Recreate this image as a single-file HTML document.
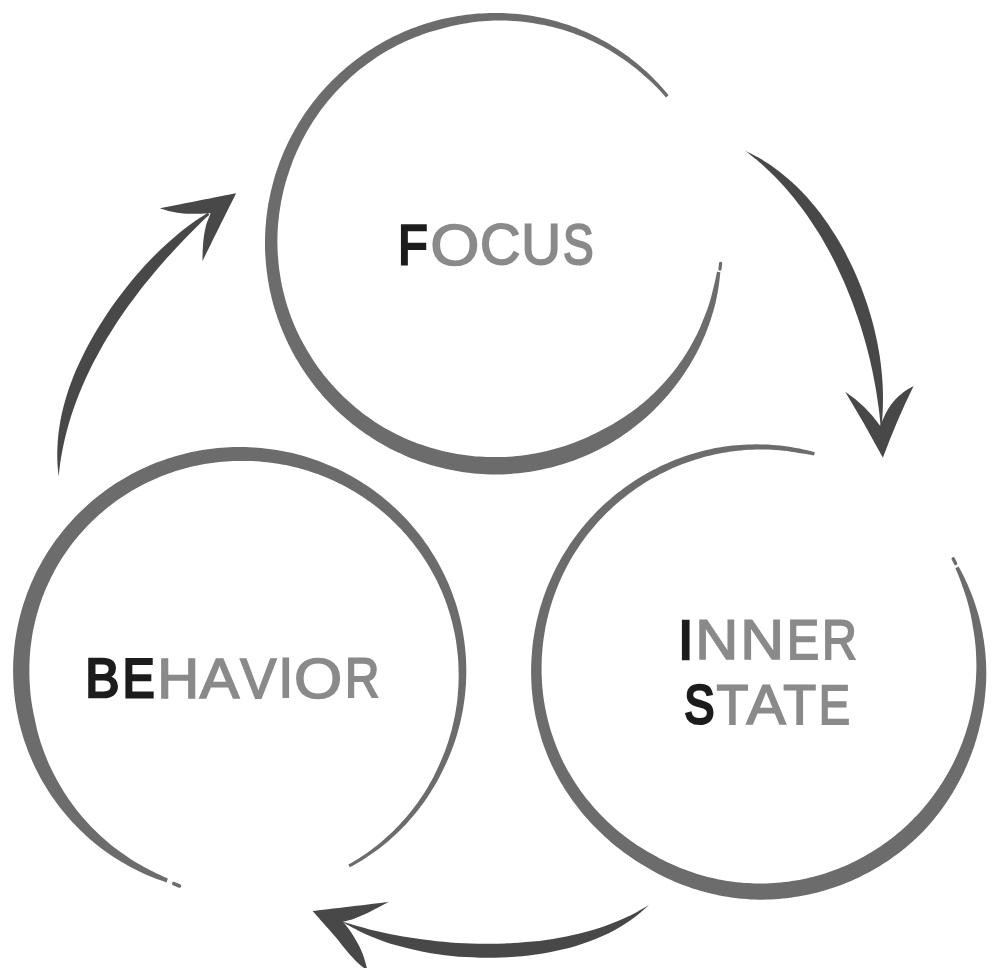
<!DOCTYPE html>
<html><head><meta charset="utf-8"><title>Focus - Inner State - Behavior</title>
<style>
html,body{margin:0;padding:0;background:#fff;}
body{width:1000px;height:968px;overflow:hidden;font-family:"Liberation Sans",sans-serif;}
svg{display:block;text-rendering:geometricPrecision;}
</style></head><body>
<svg width="1000" height="968" viewBox="0 0 1000 968">
<rect width="1000" height="968" fill="#ffffff"/>
<path d="M668.6 95.2 L666.1 92.2 L663.5 89.2 L660.9 86.2 L658.2 83.3 L655.4 80.4 L652.6 77.6 L649.8 74.8 L646.9 72.1 L643.9 69.4 L640.9 66.8 L637.9 64.2 L634.8 61.7 L631.6 59.2 L628.5 56.8 L625.2 54.5 L622.0 52.2 L618.7 50.0 L615.3 47.8 L611.9 45.7 L608.5 43.6 L605.0 41.6 L601.5 39.7 L598.0 37.8 L594.5 36.0 L590.9 34.2 L587.2 32.5 L583.6 30.9 L579.9 29.4 L576.2 27.8 L572.4 26.4 L568.7 25.1 L564.9 23.9 L561.0 22.7 L557.2 21.6 L553.3 20.5 L549.4 19.5 L545.5 18.6 L541.6 17.8 L537.7 17.0 L533.8 16.3 L529.8 15.6 L525.8 15.1 L521.9 14.6 L517.9 14.1 L513.9 13.8 L509.9 13.5 L505.9 13.3 L501.9 13.1 L497.9 13.0 L493.9 13.0 L489.9 13.1 L485.9 13.2 L481.9 13.4 L477.9 13.6 L473.9 14.0 L469.9 14.4 L466.0 14.8 L462.0 15.4 L458.0 16.0 L454.1 16.7 L450.2 17.4 L446.2 18.2 L442.3 19.1 L438.4 20.1 L434.6 21.1 L430.7 22.2 L426.9 23.3 L423.1 24.5 L419.3 25.8 L415.5 27.2 L411.8 28.6 L408.0 30.1 L404.3 31.6 L400.7 33.2 L397.0 34.9 L393.4 36.6 L389.9 38.4 L386.3 40.3 L382.8 42.2 L379.3 44.2 L375.9 46.3 L372.5 48.4 L369.1 50.5 L365.8 52.7 L362.5 55.0 L359.2 57.4 L356.0 59.7 L352.8 62.2 L349.7 64.7 L346.6 67.2 L343.6 69.9 L340.6 72.5 L337.7 75.2 L334.8 78.0 L331.9 80.8 L329.1 83.7 L326.4 86.6 L323.7 89.5 L321.0 92.6 L318.4 95.6 L315.9 98.7 L313.4 101.8 L311.0 105.0 L308.6 108.2 L306.3 111.5 L304.0 114.8 L301.8 118.2 L299.7 121.5 L297.6 125.0 L295.6 128.4 L293.6 131.9 L291.7 135.4 L289.9 139.0 L288.1 142.6 L286.4 146.2 L284.7 149.8 L283.1 153.5 L281.6 157.2 L280.1 160.9 L278.7 164.7 L277.4 168.5 L276.1 172.3 L274.9 176.1 L273.8 179.9 L272.8 183.8 L271.8 187.7 L270.8 191.6 L270.0 195.5 L269.2 199.4 L268.4 203.3 L267.8 207.3 L267.2 211.2 L266.7 215.2 L266.2 219.2 L265.9 223.2 L265.5 227.2 L265.3 231.2 L265.1 235.2 L265.0 239.2 L265.0 243.2 L265.0 247.2 L265.1 251.2 L265.3 255.2 L265.6 259.2 L265.9 263.2 L266.3 267.1 L266.7 271.1 L267.3 275.1 L267.8 279.1 L268.5 283.0 L269.2 286.9 L270.0 290.9 L270.9 294.8 L271.8 298.7 L272.8 302.5 L273.9 306.4 L275.0 310.2 L276.3 314.1 L277.5 317.9 L278.9 321.6 L280.3 325.4 L281.7 329.1 L283.3 332.8 L284.9 336.5 L286.5 340.1 L288.2 343.7 L290.0 347.3 L291.9 350.9 L293.8 354.4 L295.7 357.9 L297.8 361.3 L299.8 364.8 L302.0 368.2 L304.2 371.5 L306.4 374.8 L308.7 378.1 L311.1 381.3 L313.5 384.5 L316.0 387.7 L318.5 390.8 L321.1 393.8 L323.7 396.9 L326.4 399.8 L329.2 402.8 L331.9 405.6 L334.8 408.5 L337.7 411.2 L340.6 414.0 L343.6 416.6 L346.6 419.3 L349.7 421.8 L352.8 424.4 L356.0 426.8 L359.2 429.2 L362.5 431.6 L365.8 433.9 L369.1 436.1 L372.4 438.3 L375.9 440.4 L379.3 442.5 L382.8 444.5 L386.3 446.5 L389.8 448.4 L393.4 450.2 L397.0 451.9 L400.7 453.6 L404.3 455.3 L408.0 456.9 L411.7 458.4 L415.5 459.8 L419.3 461.2 L423.1 462.5 L426.9 463.7 L430.7 464.9 L434.6 466.0 L438.5 467.1 L442.4 468.1 L446.3 469.0 L450.3 469.8 L454.2 470.6 L458.2 471.3 L462.1 471.9 L466.1 472.5 L470.1 473.0 L474.1 473.4 L478.1 473.8 L482.2 474.1 L486.2 474.3 L490.2 474.4 L494.2 474.5 L498.3 474.5 L502.3 474.4 L506.3 474.2 L510.3 474.0 L514.4 473.6 L518.4 473.3 L522.4 472.8 L526.4 472.3 L530.4 471.7 L534.3 471.0 L538.3 470.3 L542.2 469.5 L546.2 468.6 L550.1 467.7 L554.0 466.7 L557.9 465.6 L561.7 464.5 L565.6 463.3 L569.4 462.0 L573.2 460.7 L577.0 459.3 L580.7 457.8 L584.4 456.3 L588.1 454.7 L591.8 453.0 L595.4 451.3 L599.1 449.5 L602.6 447.6 L606.2 445.7 L609.7 443.8 L613.1 441.7 L616.5 439.6 L619.9 437.4 L623.3 435.1 L626.6 432.8 L629.8 430.5 L633.0 428.1 L636.2 425.6 L639.3 423.1 L642.4 420.5 L645.4 417.9 L648.4 415.2 L651.4 412.4 L654.3 409.7 L657.1 406.8 L659.9 403.9 L662.6 401.0 L665.3 398.0 L668.0 395.0 L670.5 391.9 L673.1 388.8 L675.5 385.7 L677.9 382.5 L680.3 379.2 L682.6 376.0 L684.8 372.7 L687.0 369.3 L689.2 365.9 L691.2 362.5 L693.2 359.0 L695.2 355.5 L697.1 352.0 L698.9 348.4 L700.6 344.9 L702.3 341.2 L703.9 337.6 L705.5 333.9 L706.9 330.2 L708.3 326.5 L709.7 322.7 L710.9 318.9 L712.1 315.1 L713.3 311.3 L714.3 307.5 L715.4 303.6 L716.2 299.7 L717.0 295.8 L717.7 291.9 L718.4 288.0 L719.0 284.1 L719.5 280.1 L719.9 276.2 L720.3 272.3 L716.9 271.8 L716.2 275.7 L715.4 279.5 L714.5 283.3 L713.6 287.0 L712.7 290.8 L711.8 294.6 L710.8 298.3 L709.7 302.1 L708.5 305.7 L707.2 309.4 L705.9 313.0 L704.5 316.6 L703.0 320.2 L701.6 323.8 L700.1 327.4 L698.5 330.9 L696.9 334.4 L695.1 337.8 L693.3 341.3 L691.5 344.6 L689.6 348.0 L687.6 351.3 L685.6 354.6 L683.5 357.8 L681.4 361.0 L679.1 364.1 L676.9 367.2 L674.5 370.3 L672.2 373.3 L669.7 376.2 L667.3 379.1 L664.7 382.0 L662.2 384.8 L659.5 387.6 L656.9 390.3 L654.2 393.0 L651.4 395.6 L648.6 398.2 L645.7 400.7 L642.8 403.2 L639.9 405.6 L636.9 407.9 L633.9 410.2 L630.8 412.5 L627.7 414.6 L624.6 416.8 L621.4 418.8 L618.2 420.8 L615.0 422.8 L611.8 424.7 L608.5 426.5 L605.2 428.3 L601.8 430.0 L598.5 431.7 L595.1 433.4 L591.8 435.1 L588.4 436.7 L585.0 438.2 L581.5 439.7 L578.1 441.1 L574.6 442.5 L571.1 443.8 L567.6 445.0 L564.0 446.2 L560.5 447.3 L556.9 448.3 L553.3 449.3 L549.7 450.3 L546.0 451.2 L542.4 452.0 L538.8 452.8 L535.1 453.5 L531.4 454.1 L527.7 454.7 L524.0 455.3 L520.3 455.7 L516.6 456.1 L512.9 456.4 L509.2 456.7 L505.5 456.9 L501.8 457.0 L498.0 457.1 L494.3 457.1 L490.6 457.1 L486.8 457.0 L483.1 456.8 L479.4 456.6 L475.7 456.4 L472.0 456.0 L468.3 455.6 L464.6 455.1 L460.9 454.6 L457.2 454.0 L453.5 453.3 L449.8 452.6 L446.2 451.8 L442.6 450.9 L438.9 450.0 L435.3 449.1 L431.7 448.1 L428.2 447.0 L424.6 445.8 L421.1 444.6 L417.5 443.4 L414.0 442.1 L410.6 440.7 L407.1 439.2 L403.7 437.7 L400.3 436.1 L396.9 434.5 L393.6 432.8 L390.3 431.1 L387.0 429.3 L383.7 427.4 L380.5 425.5 L377.3 423.5 L374.2 421.4 L371.1 419.3 L368.0 417.1 L365.0 414.9 L362.0 412.7 L359.1 410.3 L356.1 408.0 L353.3 405.6 L350.4 403.1 L347.7 400.6 L344.9 398.0 L342.2 395.4 L339.6 392.7 L336.9 390.0 L334.4 387.3 L331.9 384.5 L329.4 381.7 L327.0 378.8 L324.6 375.9 L322.3 372.9 L320.0 369.9 L317.8 366.9 L315.6 363.8 L313.5 360.7 L311.5 357.5 L309.5 354.3 L307.5 351.1 L305.6 347.8 L303.8 344.6 L302.0 341.2 L300.2 337.9 L298.6 334.5 L296.9 331.1 L295.4 327.7 L293.9 324.2 L292.5 320.7 L291.1 317.2 L289.8 313.6 L288.6 310.1 L287.4 306.5 L286.3 302.9 L285.3 299.2 L284.3 295.6 L283.4 291.9 L282.5 288.2 L281.7 284.5 L281.0 280.8 L280.4 277.1 L279.8 273.3 L279.2 269.6 L278.8 265.8 L278.4 262.1 L278.1 258.3 L277.8 254.5 L277.6 250.7 L277.5 246.9 L277.4 243.2 L277.4 239.4 L277.5 235.6 L277.6 231.8 L277.8 228.0 L278.1 224.2 L278.5 220.5 L278.9 216.7 L279.3 212.9 L279.9 209.2 L280.5 205.4 L281.1 201.7 L281.9 198.0 L282.7 194.3 L283.5 190.6 L284.4 186.9 L285.4 183.2 L286.5 179.6 L287.6 176.0 L288.8 172.4 L290.0 168.8 L291.3 165.2 L292.6 161.6 L294.0 158.1 L295.5 154.6 L297.0 151.1 L298.6 147.7 L300.2 144.2 L301.9 140.8 L303.7 137.4 L305.5 134.1 L307.3 130.8 L309.3 127.5 L311.3 124.3 L313.3 121.0 L315.4 117.9 L317.6 114.7 L319.8 111.6 L322.0 108.5 L324.4 105.5 L326.7 102.5 L329.2 99.6 L331.6 96.7 L334.2 93.8 L336.7 91.0 L339.4 88.2 L342.1 85.5 L344.8 82.8 L347.6 80.2 L350.4 77.6 L353.2 75.1 L356.1 72.6 L359.1 70.1 L362.1 67.8 L365.1 65.4 L368.2 63.2 L371.3 60.9 L374.5 58.8 L377.7 56.6 L380.9 54.6 L384.2 52.6 L387.5 50.6 L390.8 48.7 L394.2 46.9 L397.6 45.1 L401.1 43.4 L404.5 41.8 L408.0 40.2 L411.6 38.7 L415.1 37.3 L418.7 35.9 L422.3 34.6 L425.9 33.3 L429.6 32.1 L433.3 30.9 L437.0 29.9 L440.7 28.9 L444.4 27.9 L448.1 27.0 L451.9 26.1 L455.6 25.3 L459.4 24.5 L463.2 23.8 L467.0 23.2 L470.8 22.6 L474.7 22.1 L478.5 21.6 L482.4 21.3 L486.2 21.0 L490.1 20.7 L493.9 20.5 L497.8 20.5 L501.7 20.5 L505.6 20.6 L509.4 20.7 L513.3 20.9 L517.2 21.2 L521.0 21.6 L524.9 22.0 L528.8 22.5 L532.6 23.0 L536.4 23.7 L540.3 24.4 L544.1 25.1 L547.9 25.9 L551.7 26.8 L555.4 27.8 L559.2 28.8 L563.0 29.8 L566.7 31.0 L570.4 32.2 L574.1 33.5 L577.7 34.9 L581.3 36.3 L584.9 37.8 L588.5 39.4 L592.0 41.0 L595.5 42.7 L599.0 44.5 L602.5 46.3 L605.9 48.2 L609.3 50.1 L612.6 52.2 L615.9 54.2 L619.2 56.4 L622.4 58.5 L625.6 60.8 L628.8 63.1 L631.9 65.4 L635.0 67.8 L638.0 70.3 L641.0 72.8 L643.9 75.4 L646.9 77.9 L649.7 80.6 L652.6 83.3 L655.4 86.0 L658.1 88.8 L660.8 91.6 L663.4 94.5 L666.0 97.4Z" fill="#6c6c6c"/>
<path d="M814.9 452.3 L811.1 451.3 L807.2 450.3 L803.4 449.5 L799.5 448.6 L795.7 447.9 L791.8 447.2 L787.9 446.6 L784.0 446.0 L780.1 445.5 L776.1 445.2 L772.2 444.9 L768.2 444.6 L764.3 444.5 L760.3 444.4 L756.4 444.3 L752.4 444.4 L748.5 444.5 L744.5 444.7 L740.6 444.9 L736.6 445.2 L732.7 445.6 L728.8 446.0 L724.8 446.6 L720.9 447.2 L717.0 447.8 L713.1 448.6 L709.3 449.4 L705.4 450.3 L701.6 451.3 L697.8 452.3 L693.9 453.4 L690.2 454.5 L686.4 455.8 L682.7 457.1 L678.9 458.4 L675.2 459.8 L671.6 461.3 L667.9 462.9 L664.3 464.5 L660.7 466.1 L657.2 467.9 L653.6 469.7 L650.1 471.5 L646.7 473.4 L643.2 475.4 L639.8 477.5 L636.5 479.6 L633.2 481.7 L629.9 483.9 L626.6 486.2 L623.4 488.5 L620.3 490.9 L617.1 493.3 L614.1 495.8 L611.0 498.4 L608.0 501.0 L605.1 503.6 L602.2 506.3 L599.3 509.0 L596.5 511.8 L593.8 514.7 L591.1 517.6 L588.4 520.5 L585.8 523.5 L583.3 526.5 L580.8 529.6 L578.3 532.7 L575.9 535.9 L573.6 539.1 L571.3 542.3 L569.1 545.6 L567.0 548.9 L564.9 552.3 L562.8 555.6 L560.8 559.1 L558.9 562.5 L557.0 566.0 L555.2 569.5 L553.5 573.1 L551.8 576.7 L550.2 580.3 L548.6 583.9 L547.1 587.6 L545.7 591.3 L544.3 595.0 L543.0 598.8 L541.8 602.5 L540.6 606.3 L539.5 610.1 L538.5 613.9 L537.5 617.8 L536.6 621.6 L535.8 625.5 L535.0 629.4 L534.3 633.3 L533.7 637.2 L533.1 641.1 L532.6 645.0 L532.2 649.0 L531.9 652.9 L531.6 656.9 L531.4 660.8 L531.2 664.8 L531.1 668.7 L531.1 672.7 L531.2 676.6 L531.3 680.6 L531.5 684.6 L531.7 688.5 L532.1 692.4 L532.5 696.4 L532.9 700.3 L533.5 704.2 L534.1 708.2 L534.8 712.1 L535.5 715.9 L536.4 719.8 L537.3 723.7 L538.2 727.5 L539.3 731.3 L540.4 735.1 L541.5 738.9 L542.7 742.7 L544.0 746.4 L545.4 750.1 L546.8 753.8 L548.3 757.5 L549.9 761.1 L551.5 764.7 L553.2 768.3 L555.0 771.8 L556.8 775.3 L558.7 778.8 L560.6 782.2 L562.7 785.6 L564.7 788.9 L566.9 792.3 L569.1 795.5 L571.3 798.8 L573.6 802.0 L576.0 805.1 L578.4 808.3 L580.8 811.3 L583.3 814.4 L585.9 817.3 L588.5 820.3 L591.2 823.2 L593.9 826.0 L596.7 828.8 L599.5 831.6 L602.3 834.3 L605.2 837.0 L608.1 839.6 L611.0 842.2 L614.0 844.7 L617.1 847.2 L620.2 849.6 L623.3 852.0 L626.5 854.3 L629.7 856.6 L632.9 858.8 L636.2 860.9 L639.5 863.0 L642.9 865.1 L646.3 867.0 L649.6 869.1 L653.1 871.0 L656.5 872.9 L660.0 874.7 L663.5 876.5 L667.0 878.2 L670.6 879.8 L674.2 881.4 L677.9 883.0 L681.5 884.4 L685.2 885.8 L688.9 887.1 L692.6 888.4 L696.4 889.6 L700.2 890.8 L704.0 891.8 L707.8 892.8 L711.7 893.8 L715.5 894.6 L719.4 895.4 L723.3 896.2 L727.2 896.8 L731.1 897.4 L735.0 898.0 L739.0 898.4 L742.9 898.8 L746.9 899.1 L750.8 899.4 L754.8 899.6 L758.8 899.7 L762.7 899.7 L766.7 899.6 L770.7 899.5 L774.6 899.3 L778.6 899.0 L782.6 898.6 L786.5 898.2 L790.5 897.7 L794.4 897.1 L798.3 896.5 L802.2 895.8 L806.1 895.1 L810.0 894.2 L813.9 893.3 L817.8 892.4 L821.6 891.3 L825.4 890.2 L829.2 889.1 L833.0 887.8 L836.8 886.5 L840.5 885.2 L844.2 883.7 L847.9 882.2 L851.6 880.7 L855.2 879.1 L858.9 877.4 L862.4 875.6 L866.0 873.8 L869.5 871.9 L873.0 870.0 L876.4 868.0 L879.9 865.9 L883.2 863.8 L886.6 861.7 L889.9 859.4 L893.1 857.1 L896.4 854.8 L899.6 852.4 L902.7 849.9 L905.8 847.4 L908.9 844.8 L911.9 842.2 L914.8 839.5 L917.8 836.8 L920.6 834.0 L923.4 831.2 L926.1 828.2 L928.8 825.3 L931.4 822.2 L933.9 819.2 L936.4 816.1 L938.9 812.9 L941.3 809.7 L943.6 806.5 L945.9 803.2 L948.1 799.9 L950.3 796.6 L952.4 793.2 L954.4 789.8 L956.4 786.3 L958.3 782.8 L960.2 779.3 L962.0 775.8 L963.7 772.2 L965.4 768.6 L967.0 764.9 L968.5 761.3 L970.0 757.6 L971.4 753.9 L972.8 750.1 L974.1 746.4 L975.3 742.6 L976.5 738.8 L977.5 735.0 L978.6 731.2 L979.5 727.3 L980.5 723.5 L981.3 719.6 L982.1 715.7 L982.8 711.8 L983.5 707.9 L984.1 704.0 L984.6 700.0 L985.0 696.1 L985.4 692.2 L985.7 688.2 L986.0 684.3 L986.2 680.3 L986.3 676.3 L986.3 672.4 L986.2 668.4 L986.1 664.5 L985.9 660.5 L985.6 656.5 L985.3 652.6 L984.9 648.7 L984.4 644.7 L983.9 640.8 L983.2 636.9 L982.6 633.0 L981.8 629.1 L981.0 625.3 L980.1 621.4 L979.2 617.6 L978.1 613.8 L977.0 610.0 L975.8 606.2 L974.6 602.4 L973.3 598.7 L971.9 595.0 L970.5 591.4 L968.9 587.7 L967.4 584.1 L965.7 580.5 L964.1 577.0 L962.3 573.4 L960.5 569.9 L958.6 566.5 L955.4 568.2 L956.9 571.7 L958.4 575.3 L959.8 578.9 L961.1 582.6 L962.4 586.2 L963.7 589.8 L964.9 593.4 L966.1 597.1 L967.2 600.8 L968.2 604.5 L969.2 608.2 L970.1 611.9 L970.9 615.7 L971.6 619.4 L972.3 623.2 L972.9 626.9 L973.6 630.7 L974.1 634.5 L974.7 638.2 L975.1 642.0 L975.5 645.8 L975.8 649.6 L976.0 653.4 L976.2 657.2 L976.3 661.0 L976.4 664.8 L976.4 668.5 L976.3 672.3 L976.1 676.1 L975.9 679.9 L975.6 683.7 L975.3 687.4 L974.8 691.2 L974.4 694.9 L973.8 698.7 L973.2 702.4 L972.5 706.1 L971.8 709.8 L971.0 713.5 L970.1 717.2 L969.2 720.8 L968.2 724.5 L967.1 728.1 L966.0 731.7 L964.9 735.2 L963.6 738.8 L962.4 742.3 L961.0 745.8 L959.6 749.3 L958.1 752.7 L956.6 756.2 L955.0 759.6 L953.4 762.9 L951.7 766.3 L949.9 769.6 L948.1 772.8 L946.2 776.1 L944.3 779.3 L942.3 782.5 L940.3 785.6 L938.2 788.7 L936.1 791.8 L933.9 794.8 L931.7 797.8 L929.4 800.8 L927.1 803.7 L924.7 806.5 L922.3 809.4 L919.8 812.2 L917.3 814.9 L914.7 817.6 L912.1 820.2 L909.5 822.8 L906.8 825.4 L904.0 827.9 L901.3 830.4 L898.4 832.8 L895.6 835.2 L892.7 837.5 L889.7 839.8 L886.7 842.0 L883.7 844.1 L880.7 846.2 L877.6 848.3 L874.5 850.3 L871.3 852.2 L868.1 854.1 L864.9 856.0 L861.7 857.8 L858.4 859.5 L855.1 861.2 L851.8 862.8 L848.4 864.4 L845.0 865.9 L841.6 867.3 L838.2 868.7 L834.7 870.0 L831.2 871.3 L827.8 872.5 L824.2 873.7 L820.7 874.7 L817.1 875.8 L813.6 876.7 L810.0 877.6 L806.4 878.4 L802.8 879.2 L799.1 879.9 L795.5 880.6 L791.9 881.1 L788.2 881.7 L784.5 882.1 L780.9 882.5 L777.2 882.8 L773.5 883.1 L769.8 883.3 L766.1 883.4 L762.4 883.5 L758.7 883.5 L755.1 883.4 L751.4 883.3 L747.7 883.1 L744.0 882.9 L740.3 882.6 L736.7 882.2 L733.0 881.8 L729.4 881.3 L725.7 880.7 L722.1 880.1 L718.5 879.4 L714.9 878.6 L711.3 877.8 L707.7 876.9 L704.1 876.0 L700.6 875.0 L697.1 873.9 L693.6 872.8 L690.1 871.6 L686.6 870.3 L683.2 869.0 L679.8 867.7 L676.4 866.3 L673.0 864.8 L669.6 863.3 L666.3 861.7 L663.0 860.1 L659.7 858.4 L656.5 856.6 L653.3 854.8 L650.1 853.0 L646.9 851.2 L643.7 849.3 L640.6 847.3 L637.5 845.4 L634.4 843.3 L631.4 841.2 L628.4 839.0 L625.4 836.8 L622.5 834.6 L619.6 832.2 L616.8 829.9 L614.0 827.5 L611.2 825.0 L608.5 822.5 L605.8 819.9 L603.2 817.3 L600.6 814.7 L598.0 812.0 L595.5 809.2 L593.0 806.5 L590.6 803.6 L588.2 800.8 L585.9 797.9 L583.7 794.9 L581.4 791.9 L579.3 788.9 L577.1 785.8 L575.1 782.7 L573.1 779.5 L571.1 776.3 L569.2 773.1 L567.4 769.9 L565.6 766.6 L563.8 763.3 L562.2 759.9 L560.6 756.5 L559.1 753.1 L557.6 749.6 L556.2 746.1 L554.9 742.6 L553.6 739.1 L552.4 735.5 L551.2 732.0 L550.1 728.4 L549.1 724.7 L548.1 721.1 L547.2 717.4 L546.4 713.8 L545.6 710.1 L544.9 706.4 L544.3 702.7 L543.7 698.9 L543.2 695.2 L542.8 691.5 L542.4 687.7 L542.1 683.9 L541.9 680.2 L541.7 676.4 L541.6 672.6 L541.6 668.9 L541.6 665.1 L541.7 661.3 L541.8 657.5 L542.1 653.7 L542.4 650.0 L542.7 646.2 L543.1 642.4 L543.6 638.7 L544.2 634.9 L544.8 631.2 L545.4 627.5 L546.2 623.8 L547.0 620.1 L547.9 616.4 L548.8 612.7 L549.8 609.0 L550.9 605.4 L552.0 601.8 L553.2 598.2 L554.5 594.6 L555.8 591.0 L557.2 587.5 L558.6 584.0 L560.1 580.5 L561.7 577.0 L563.3 573.6 L565.0 570.2 L566.7 566.8 L568.5 563.4 L570.4 560.1 L572.3 556.8 L574.3 553.6 L576.3 550.4 L578.4 547.2 L580.5 544.0 L582.7 540.9 L585.0 537.8 L587.3 534.8 L589.7 531.8 L592.1 528.9 L594.6 525.9 L597.1 523.1 L599.6 520.3 L602.3 517.5 L604.9 514.7 L607.6 512.0 L610.4 509.4 L613.2 506.8 L616.0 504.2 L618.9 501.7 L621.9 499.3 L624.9 496.9 L627.9 494.6 L631.0 492.3 L634.1 490.0 L637.2 487.8 L640.4 485.7 L643.6 483.6 L646.9 481.6 L650.2 479.6 L653.5 477.7 L656.9 475.9 L660.2 474.1 L663.7 472.4 L667.1 470.7 L670.6 469.1 L674.1 467.5 L677.7 466.0 L681.2 464.6 L684.8 463.2 L688.5 461.9 L692.1 460.7 L695.8 459.5 L699.4 458.4 L703.1 457.3 L706.9 456.3 L710.6 455.4 L714.4 454.6 L718.1 453.8 L721.9 453.0 L725.7 452.4 L729.5 451.8 L733.4 451.3 L737.2 450.8 L741.0 450.4 L744.9 450.1 L748.7 449.8 L752.6 449.7 L756.4 449.5 L760.3 449.5 L764.2 449.5 L768.0 449.6 L771.9 449.7 L775.8 450.0 L779.6 450.3 L783.5 450.7 L787.3 451.1 L791.1 451.7 L795.0 452.3 L798.8 452.9 L802.6 453.5 L806.4 454.1 L810.2 454.8 L814.0 455.6Z" fill="#6c6c6c"/>
<path d="M166.5 882.4 L162.8 881.1 L159.1 879.8 L155.4 878.4 L151.7 876.9 L148.1 875.4 L144.5 873.9 L140.9 872.2 L137.4 870.5 L133.9 868.8 L130.4 867.0 L126.9 865.1 L123.5 863.1 L120.1 861.1 L116.8 859.1 L113.5 857.0 L110.2 854.8 L107.0 852.6 L103.8 850.3 L100.7 847.9 L97.6 845.5 L94.5 843.0 L91.5 840.5 L88.6 837.9 L85.6 835.3 L82.8 832.6 L80.0 829.9 L77.2 827.1 L74.5 824.3 L71.8 821.4 L69.2 818.5 L66.6 815.6 L64.1 812.6 L61.6 809.5 L59.2 806.4 L56.8 803.3 L54.5 800.1 L52.3 796.9 L50.1 793.7 L48.0 790.4 L45.9 787.1 L43.9 783.7 L41.9 780.4 L40.0 776.9 L38.2 773.5 L36.4 770.0 L34.7 766.5 L33.1 762.9 L31.5 759.4 L30.0 755.8 L28.5 752.2 L27.1 748.5 L25.8 744.8 L24.5 741.2 L23.3 737.4 L22.2 733.7 L21.1 730.0 L20.1 726.2 L19.1 722.4 L18.3 718.6 L17.5 714.8 L16.7 711.0 L16.1 707.1 L15.5 703.3 L14.9 699.4 L14.5 695.5 L14.1 691.7 L13.7 687.8 L13.5 683.9 L13.3 680.0 L13.2 676.1 L13.1 672.2 L13.1 668.3 L13.2 664.4 L13.3 660.5 L13.6 656.6 L13.9 652.7 L14.2 648.8 L14.6 645.0 L15.1 641.1 L15.7 637.2 L16.3 633.4 L17.0 629.5 L17.8 625.7 L18.6 621.9 L19.5 618.1 L20.5 614.3 L21.5 610.6 L22.6 606.8 L23.8 603.1 L25.0 599.4 L26.3 595.7 L27.6 592.1 L29.1 588.4 L30.5 584.8 L32.1 581.2 L33.7 577.7 L35.4 574.1 L37.1 570.6 L38.9 567.2 L40.8 563.7 L42.7 560.3 L44.7 557.0 L46.7 553.6 L48.8 550.3 L51.0 547.0 L53.2 543.8 L55.4 540.6 L57.8 537.5 L60.1 534.4 L62.6 531.3 L65.1 528.3 L67.6 525.3 L70.2 522.4 L72.8 519.5 L75.5 516.6 L78.3 513.8 L81.1 511.1 L83.9 508.4 L86.8 505.7 L89.7 503.1 L92.7 500.5 L95.7 498.0 L98.8 495.6 L101.9 493.2 L105.0 490.8 L108.2 488.6 L111.5 486.3 L114.7 484.1 L118.0 482.0 L121.4 480.0 L124.8 477.9 L128.2 476.0 L131.6 474.1 L135.1 472.3 L138.6 470.5 L142.2 468.8 L145.8 467.2 L149.4 465.6 L153.0 464.1 L156.6 462.6 L160.3 461.2 L164.0 459.9 L167.8 458.6 L171.5 457.4 L175.3 456.2 L179.1 455.2 L182.9 454.2 L186.7 453.2 L190.5 452.3 L194.4 451.5 L198.3 450.8 L202.2 450.1 L206.1 449.5 L210.0 448.9 L213.9 448.5 L217.8 448.0 L221.7 447.7 L225.7 447.4 L229.6 447.2 L233.5 447.1 L237.5 447.0 L241.4 447.0 L245.4 447.1 L249.3 447.2 L253.2 447.4 L257.2 447.7 L261.1 448.0 L265.0 448.4 L268.9 448.9 L272.8 449.4 L276.7 450.0 L280.6 450.7 L284.5 451.4 L288.4 452.2 L292.2 453.1 L296.0 454.0 L299.8 455.0 L303.6 456.1 L307.4 457.2 L311.2 458.4 L314.9 459.7 L318.6 461.0 L322.3 462.4 L325.9 463.9 L329.6 465.4 L333.2 467.0 L336.8 468.6 L340.3 470.3 L343.8 472.1 L347.3 473.9 L350.8 475.8 L354.2 477.7 L357.6 479.7 L360.9 481.7 L364.2 483.9 L367.5 486.0 L370.8 488.3 L373.9 490.5 L377.1 492.9 L380.2 495.3 L383.3 497.7 L386.3 500.2 L389.3 502.8 L392.2 505.4 L395.1 508.0 L398.0 510.7 L400.8 513.5 L403.5 516.2 L406.2 519.1 L408.9 522.0 L411.5 524.9 L414.0 527.9 L416.5 530.9 L419.0 534.0 L421.3 537.1 L423.7 540.2 L425.9 543.4 L428.2 546.6 L430.3 549.9 L432.4 553.2 L434.5 556.5 L436.5 559.9 L438.4 563.3 L440.2 566.7 L442.1 570.2 L443.8 573.7 L445.5 577.2 L447.1 580.8 L448.7 584.3 L450.2 588.0 L451.6 591.6 L452.9 595.2 L454.2 598.9 L455.5 602.6 L456.7 606.3 L457.8 610.1 L458.8 613.9 L459.8 617.6 L460.7 621.4 L461.5 625.2 L462.3 629.1 L463.0 632.9 L463.6 636.7 L464.2 640.6 L464.7 644.5 L465.1 648.3 L465.5 652.2 L465.8 656.1 L466.0 660.0 L466.2 663.9 L466.3 667.8 L466.3 671.7 L466.3 675.6 L466.1 679.5 L466.0 683.4 L465.7 687.3 L465.4 691.1 L465.0 695.0 L464.5 698.9 L464.0 702.8 L463.4 706.6 L462.8 710.5 L462.0 714.3 L461.2 718.1 L460.4 721.9 L459.4 725.7 L458.4 729.5 L457.4 733.2 L456.3 737.0 L455.1 740.7 L453.8 744.4 L452.5 748.0 L451.1 751.7 L449.6 755.3 L448.1 758.9 L446.5 762.5 L444.9 766.0 L443.2 769.6 L441.5 773.1 L439.7 776.5 L437.9 780.0 L435.9 783.4 L434.0 786.8 L431.9 790.1 L429.8 793.4 L427.7 796.7 L425.5 800.0 L423.2 803.2 L420.9 806.3 L418.5 809.4 L416.1 812.5 L413.6 815.6 L411.0 818.5 L408.4 821.5 L405.8 824.4 L403.0 827.2 L400.3 830.0 L397.5 832.8 L394.6 835.5 L391.7 838.1 L388.8 840.7 L385.8 843.3 L382.7 845.8 L379.6 848.2 L376.5 850.6 L373.2 852.8 L370.0 855.1 L366.7 857.3 L363.4 859.4 L360.0 861.4 L356.6 863.4 L353.2 865.4 L349.8 867.3 L348.3 864.6 L351.7 862.7 L355.0 860.7 L358.3 858.7 L361.6 856.6 L364.8 854.4 L368.0 852.2 L371.1 849.9 L374.2 847.6 L377.3 845.2 L380.3 842.7 L383.2 840.2 L386.1 837.6 L389.0 835.0 L391.8 832.4 L394.5 829.7 L397.2 827.0 L399.9 824.2 L402.5 821.3 L405.1 818.5 L407.6 815.5 L410.1 812.6 L412.5 809.6 L414.8 806.5 L417.1 803.4 L419.3 800.3 L421.5 797.1 L423.6 793.9 L425.6 790.7 L427.6 787.4 L429.5 784.1 L431.4 780.8 L433.2 777.4 L434.9 774.0 L436.6 770.6 L438.2 767.1 L439.8 763.6 L441.3 760.1 L442.8 756.6 L444.2 753.1 L445.5 749.5 L446.8 746.0 L448.0 742.4 L449.1 738.7 L450.2 735.1 L451.3 731.5 L452.2 727.8 L453.1 724.1 L453.9 720.4 L454.7 716.7 L455.4 713.0 L456.0 709.3 L456.6 705.5 L457.1 701.8 L457.5 698.0 L457.8 694.3 L458.1 690.5 L458.4 686.7 L458.5 683.0 L458.6 679.2 L458.7 675.4 L458.6 671.7 L458.5 667.9 L458.4 664.1 L458.2 660.4 L457.9 656.6 L457.5 652.9 L457.1 649.2 L456.6 645.4 L456.1 641.7 L455.5 638.0 L454.8 634.3 L454.0 630.6 L453.2 627.0 L452.4 623.3 L451.4 619.7 L450.4 616.1 L449.4 612.5 L448.2 608.9 L447.1 605.3 L445.8 601.8 L444.5 598.3 L443.1 594.8 L441.7 591.3 L440.2 587.9 L438.6 584.5 L437.0 581.1 L435.3 577.8 L433.5 574.5 L431.7 571.2 L429.9 568.0 L428.0 564.7 L426.0 561.6 L424.0 558.4 L421.9 555.3 L419.8 552.2 L417.6 549.2 L415.3 546.2 L413.1 543.3 L410.7 540.3 L408.3 537.5 L405.9 534.6 L403.4 531.9 L400.9 529.1 L398.3 526.4 L395.7 523.8 L393.0 521.2 L390.3 518.6 L387.5 516.1 L384.7 513.6 L381.9 511.2 L379.0 508.8 L376.1 506.5 L373.1 504.2 L370.1 502.0 L367.1 499.9 L364.0 497.8 L360.9 495.7 L357.8 493.7 L354.6 491.8 L351.4 489.9 L348.1 488.0 L344.9 486.3 L341.6 484.5 L338.2 482.9 L334.9 481.3 L331.5 479.7 L328.1 478.2 L324.6 476.8 L321.2 475.4 L317.7 474.1 L314.2 472.9 L310.7 471.7 L307.1 470.6 L303.6 469.5 L300.0 468.5 L296.4 467.5 L292.8 466.7 L289.2 465.8 L285.5 465.1 L281.9 464.4 L278.2 463.8 L274.6 463.2 L270.9 462.7 L267.2 462.3 L263.5 461.9 L259.8 461.6 L256.1 461.3 L252.4 461.1 L248.7 461.0 L245.0 461.0 L241.3 461.0 L237.6 461.0 L233.9 461.1 L230.2 461.3 L226.5 461.5 L222.8 461.8 L219.2 462.1 L215.5 462.5 L211.8 463.0 L208.2 463.5 L204.5 464.1 L200.9 464.8 L197.3 465.5 L193.6 466.3 L190.0 467.1 L186.5 468.0 L182.9 469.0 L179.4 470.0 L175.8 471.1 L172.3 472.3 L168.8 473.5 L165.4 474.7 L161.9 476.1 L158.5 477.4 L155.1 478.9 L151.8 480.4 L148.4 482.0 L145.1 483.6 L141.9 485.2 L138.6 487.0 L135.4 488.8 L132.2 490.6 L129.1 492.5 L125.9 494.4 L122.9 496.4 L119.8 498.5 L116.8 500.6 L113.8 502.8 L110.9 505.0 L108.0 507.2 L105.2 509.5 L102.4 511.9 L99.6 514.3 L96.9 516.7 L94.2 519.2 L91.5 521.8 L89.0 524.3 L86.4 527.0 L83.9 529.7 L81.5 532.4 L79.1 535.1 L76.7 537.9 L74.4 540.8 L72.2 543.6 L70.0 546.6 L67.9 549.5 L65.8 552.5 L63.7 555.5 L61.7 558.6 L59.8 561.7 L57.9 564.8 L56.1 568.0 L54.4 571.1 L52.7 574.4 L51.0 577.6 L49.4 580.9 L47.9 584.2 L46.4 587.5 L45.0 590.8 L43.6 594.2 L42.3 597.6 L41.1 601.0 L39.9 604.4 L38.8 607.9 L37.8 611.4 L36.8 614.8 L35.8 618.4 L35.0 621.9 L34.2 625.4 L33.4 629.0 L32.7 632.5 L32.1 636.1 L31.6 639.7 L31.1 643.2 L30.6 646.8 L30.3 650.4 L30.0 654.0 L29.7 657.6 L29.6 661.3 L29.4 664.9 L29.4 668.5 L29.4 672.1 L29.4 675.7 L29.5 679.3 L29.7 682.9 L29.9 686.6 L30.2 690.2 L30.5 693.8 L30.9 697.4 L31.4 700.9 L31.9 704.5 L32.5 708.1 L33.2 711.7 L33.9 715.2 L34.7 718.7 L35.4 722.3 L36.2 725.8 L37.0 729.4 L37.9 732.9 L38.9 736.4 L39.9 739.9 L41.0 743.4 L42.2 746.8 L43.4 750.3 L44.7 753.7 L46.0 757.1 L47.4 760.5 L48.9 763.9 L50.4 767.2 L52.0 770.5 L53.7 773.8 L55.4 777.1 L57.1 780.3 L58.9 783.5 L60.8 786.7 L62.7 789.9 L64.6 793.0 L66.6 796.1 L68.7 799.2 L70.9 802.2 L73.0 805.2 L75.3 808.2 L77.6 811.2 L79.9 814.1 L82.3 816.9 L84.8 819.7 L87.3 822.5 L89.8 825.3 L92.4 828.0 L95.1 830.6 L97.8 833.2 L100.5 835.8 L103.3 838.3 L106.2 840.8 L109.0 843.3 L112.0 845.7 L115.0 848.0 L118.0 850.3 L121.1 852.5 L124.2 854.6 L127.3 856.8 L130.5 858.9 L133.7 860.9 L137.0 862.9 L140.3 864.8 L143.6 866.7 L147.0 868.6 L150.4 870.3 L153.8 872.0 L157.3 873.7 L160.8 875.3 L164.3 876.9 L167.9 878.4Z" fill="#6c6c6c"/>
<path d="M720.6 263.4L720.0 269.2" stroke="#6c6c6c" stroke-width="3.2" stroke-linecap="round" fill="none"/>
<path d="M953.2 558.8L955.6 563.6" stroke="#6c6c6c" stroke-width="3.4" stroke-linecap="round" fill="none"/>
<path d="M173.8 883.6L179.4 886" stroke="#6c6c6c" stroke-width="3.6" stroke-linecap="round" fill="none"/>
<path d="M745.2 150.7 C747.3 151.8 753.9 155.0 758.0 157.3 C762.2 159.7 766.2 162.2 770.1 164.8 C774.0 167.5 777.7 170.3 781.4 173.2 C785.1 176.1 788.6 179.1 792.1 182.2 C795.5 185.4 798.9 188.7 802.1 192.0 C805.3 195.4 808.4 198.8 811.5 202.4 C814.5 205.9 817.4 209.6 820.3 213.3 C823.1 217.0 825.8 220.9 828.5 224.7 C831.1 228.6 833.6 232.6 836.1 236.6 C838.5 240.6 840.9 244.7 843.2 248.8 C845.4 253.0 847.6 257.1 849.7 261.4 C851.8 265.6 853.8 269.9 855.7 274.2 C857.6 278.6 859.4 282.9 861.1 287.3 C862.8 291.7 864.4 296.2 865.9 300.6 C867.5 305.1 868.9 309.6 870.2 314.1 C871.6 318.6 872.8 323.2 874.0 327.7 C875.1 332.3 876.1 336.9 877.1 341.5 C878.0 346.1 878.8 350.7 879.6 355.3 C880.3 359.9 880.9 364.6 881.4 369.2 C881.9 373.9 882.3 378.5 882.6 383.2 C882.8 387.9 883.0 392.6 883.0 397.3 C883.0 402.0 882.9 406.7 882.7 411.4 C882.5 416.1 881.8 423.1 881.6 425.5 C881.4 425.5 880.8 425.5 880.6 425.5 C880.4 423.2 879.7 416.4 879.2 411.9 C878.6 407.4 878.0 402.9 877.3 398.4 C876.7 393.9 875.9 389.4 875.1 384.9 C874.3 380.4 873.4 375.9 872.5 371.5 C871.5 367.0 870.5 362.6 869.5 358.1 C868.4 353.7 867.3 349.3 866.1 344.8 C864.9 340.4 863.6 336.0 862.3 331.7 C861.0 327.3 859.6 322.9 858.1 318.6 C856.7 314.3 855.1 309.9 853.6 305.7 C852.0 301.4 850.3 297.1 848.6 292.9 C846.9 288.6 845.1 284.4 843.3 280.2 C841.4 276.1 839.5 271.9 837.5 267.8 C835.6 263.7 833.5 259.6 831.4 255.6 C829.3 251.5 827.1 247.5 824.8 243.6 C822.6 239.6 820.3 235.7 817.9 231.8 C815.5 228.0 813.0 224.1 810.5 220.4 C807.9 216.6 805.3 212.9 802.6 209.2 C799.9 205.6 797.1 202.0 794.3 198.4 C791.4 194.9 788.5 191.4 785.5 188.0 C782.5 184.6 779.4 181.3 776.2 178.0 C773.0 174.7 769.8 171.5 766.4 168.4 C763.1 165.3 759.6 162.3 756.1 159.3 C752.5 156.4 747.0 152.1 745.2 150.7Z" fill="#484848"/>
<path d="M845.2 391.7 Q 864.8 424 882.9 457.7 Q 896.4 421 913.6 386.0 Q 891.75 396.9 882.9 419.6 L 880.1 425.7 Q 865.9 405.4 845.2 391.7 Z" fill="#484848"/>
<path d="M649.0 905.0 C647.0 906.2 641.1 909.8 637.0 911.9 C633.0 914.1 628.9 916.1 624.7 918.0 C620.6 919.9 616.4 921.6 612.2 923.3 C607.9 924.9 603.6 926.5 599.3 927.9 C595.0 929.3 590.6 930.6 586.3 931.8 C581.9 933.0 577.5 934.1 573.0 935.0 C568.6 936.0 564.1 936.9 559.6 937.7 C555.1 938.6 550.6 939.3 546.1 939.9 C541.6 940.5 537.1 941.1 532.5 941.6 C528.0 942.0 523.4 942.4 518.9 942.8 C514.3 943.1 509.8 943.3 505.2 943.5 C500.6 943.7 496.0 943.8 491.5 943.8 C486.9 943.8 482.3 943.8 477.8 943.7 C473.2 943.6 468.6 943.5 464.1 943.2 C459.5 943.0 454.9 942.7 450.4 942.4 C445.9 942.0 441.3 941.6 436.8 941.2 C432.3 940.7 427.7 940.1 423.2 939.6 C418.7 939.0 414.2 938.3 409.7 937.6 C405.2 936.9 400.7 936.1 396.3 935.2 C391.8 934.4 387.4 933.5 382.9 932.5 C378.5 931.5 374.0 930.5 369.6 929.4 C365.2 928.2 360.8 927.1 356.4 925.8 C352.0 924.5 345.4 922.5 343.2 921.8 C343.6 922.2 345.4 923.7 345.9 924.1 C348.0 925.2 354.2 928.6 358.4 930.7 C362.6 932.8 366.8 934.7 371.1 936.4 C375.4 938.2 379.7 939.8 384.0 941.4 C388.4 942.9 392.8 944.3 397.2 945.6 C401.7 946.8 406.2 948.0 410.7 949.1 C415.2 950.1 419.7 951.1 424.2 951.9 C428.8 952.8 433.4 953.6 438.0 954.2 C442.6 954.9 447.2 955.4 451.9 955.9 C456.5 956.4 461.2 956.8 465.8 957.1 C470.5 957.3 475.2 957.5 479.9 957.7 C484.6 957.8 489.2 957.8 493.9 957.7 C498.6 957.6 503.3 957.5 508.0 957.2 C512.7 957.0 517.3 956.6 522.0 956.2 C526.6 955.7 531.3 955.2 535.9 954.5 C540.5 953.9 545.1 953.1 549.7 952.2 C554.3 951.4 558.8 950.4 563.3 949.3 C567.8 948.2 572.3 947.0 576.7 945.7 C581.1 944.3 585.4 942.9 589.7 941.3 C594.1 939.7 598.3 937.9 602.5 936.0 C606.7 934.1 610.8 932.1 614.9 929.9 C618.9 927.6 622.9 925.3 626.8 922.7 C630.7 920.1 634.5 917.4 638.2 914.4 C641.9 911.5 647.2 906.6 649.0 905.0Z" fill="#484848"/>
<path d="M312.6 911.1 C325.3 909.6 375.9 903.5 388.6 902.0 C386.4 903.1 379.9 906.6 375.6 908.8 C371.3 911.0 366.6 913.5 363.0 915.1 C359.4 916.8 357.3 917.6 354.0 918.7 C350.7 919.8 345.0 921.3 343.2 921.8 C343.5 922.2 344.7 923.7 345.0 924.1 C346.2 925.8 349.8 930.2 352.2 934.0 C354.6 937.8 357.4 942.7 359.4 946.6 C361.3 950.5 362.6 953.7 363.9 957.4 C365.2 961.1 366.6 967.1 367.2 969.0 C366.9 969.0 365.8 969.0 365.5 969.0 C364.2 968.0 360.7 965.8 357.6 962.8 C354.5 959.8 350.4 955.3 346.8 951.1 C343.2 946.9 339.9 942.2 336.0 937.6 C332.1 933.0 327.3 927.6 323.4 923.2 C319.5 918.8 314.4 913.1 312.6 911.1Z" fill="#484848"/>
<path d="M58.6 476.6 C58.4 474.2 57.6 466.9 57.4 462.2 C57.2 457.4 57.2 452.7 57.4 448.1 C57.5 443.4 57.9 438.9 58.4 434.3 C58.9 429.8 59.6 425.3 60.4 420.8 C61.2 416.3 62.2 411.9 63.3 407.5 C64.4 403.2 65.6 398.8 67.0 394.5 C68.3 390.2 69.8 385.9 71.4 381.7 C73.0 377.5 74.7 373.3 76.5 369.1 C78.3 364.9 80.3 360.8 82.3 356.7 C84.3 352.6 86.4 348.5 88.5 344.5 C90.7 340.4 93.0 336.4 95.3 332.5 C97.7 328.5 100.1 324.6 102.6 320.7 C105.1 316.8 107.7 312.9 110.3 309.1 C112.9 305.3 115.7 301.5 118.4 297.8 C121.2 294.1 124.0 290.4 126.9 286.8 C129.8 283.1 132.7 279.6 135.7 276.0 C138.8 272.5 141.8 269.0 144.9 265.6 C148.1 262.2 151.2 258.9 154.5 255.6 C157.7 252.3 161.0 249.1 164.4 246.0 C167.7 242.9 171.1 239.8 174.6 236.9 C178.1 233.9 181.6 231.1 185.2 228.3 C188.8 225.5 192.4 222.8 196.1 220.3 C199.9 217.7 205.6 214.1 207.5 212.9 C207.8 213.2 209.2 214.3 209.5 214.6 C207.9 216.1 203.0 220.7 199.8 223.8 C196.6 227.0 193.5 230.1 190.3 233.3 C187.2 236.5 184.0 239.7 180.9 242.9 C177.9 246.1 174.8 249.4 171.8 252.7 C168.7 256.0 165.7 259.3 162.8 262.7 C159.8 266.1 156.9 269.5 154.0 272.9 C151.1 276.3 148.3 279.8 145.5 283.3 C142.7 286.8 139.9 290.3 137.2 293.9 C134.4 297.5 131.8 301.1 129.1 304.7 C126.5 308.3 123.9 312.0 121.4 315.7 C118.9 319.4 116.4 323.1 114.0 326.9 C111.6 330.7 109.2 334.5 106.9 338.3 C104.6 342.2 102.3 346.0 100.2 349.9 C98.0 353.8 95.9 357.8 93.8 361.7 C91.8 365.7 89.8 369.7 87.9 373.8 C86.0 377.8 84.1 381.9 82.4 386.0 C80.6 390.1 78.9 394.2 77.3 398.4 C75.7 402.5 74.2 406.7 72.8 411.0 C71.4 415.2 70.0 419.5 68.8 423.8 C67.5 428.0 66.4 432.4 65.3 436.7 C64.3 441.1 63.3 445.4 62.5 449.8 C61.6 454.2 60.8 458.7 60.2 463.1 C59.6 467.6 58.9 474.4 58.6 476.6Z" fill="#484848"/>
<path d="M159.8 208.2 C172.5 205.7 223.4 195.7 236.1 193.2 C230.5 204.5 208.1 249.8 202.5 261.1 C202.5 259.4 202.5 254.6 202.7 250.6 C202.9 246.6 203.2 241.2 203.8 236.9 C204.4 232.6 205.2 228.4 206.3 224.5 C207.5 220.6 210.0 215.1 210.7 213.2 C208.2 213.3 200.4 213.8 195.8 213.8 C191.2 213.8 187.5 213.8 183.4 213.4 C179.3 213.0 174.9 212.4 171.0 211.5 C167.1 210.6 161.7 208.8 159.8 208.2Z" fill="#484848"/>
<text transform="translate(398.22 263.84) scale(0.4788 0.5580)" font-family="Liberation Sans, sans-serif" font-size="100" font-weight="normal" fill="#1c1c1c" stroke="#1c1c1c" stroke-width="5.22" stroke-linejoin="miter">F</text>
<text transform="translate(430.15 264.52) scale(0.6329 0.5777)" font-family="Liberation Sans, sans-serif" font-size="100" font-weight="normal" fill="#8a8a8a" stroke="#8a8a8a" stroke-width="2.69" stroke-linejoin="miter">O</text>
<text transform="translate(480.00 264.43) scale(0.5606 0.5750)" font-family="Liberation Sans, sans-serif" font-size="100" font-weight="normal" fill="#8a8a8a" stroke="#8a8a8a" stroke-width="3.03" stroke-linejoin="miter">C</text>
<text transform="translate(521.31 264.41) scale(0.5494 0.5745)" font-family="Liberation Sans, sans-serif" font-size="100" font-weight="normal" fill="#8a8a8a" stroke="#8a8a8a" stroke-width="3.09" stroke-linejoin="miter">U</text>
<text transform="translate(563.07 264.24) scale(0.4586 0.5696)" font-family="Liberation Sans, sans-serif" font-size="100" font-weight="normal" fill="#8a8a8a" stroke="#8a8a8a" stroke-width="3.71" stroke-linejoin="miter">S</text>
<text transform="translate(85.34 697.06) scale(0.5129 0.5497)" font-family="Liberation Sans, sans-serif" font-size="100" font-weight="normal" fill="#1c1c1c" stroke="#1c1c1c" stroke-width="4.87" stroke-linejoin="miter">B</text>
<text transform="translate(122.65 696.96) scale(0.4760 0.5469)" font-family="Liberation Sans, sans-serif" font-size="100" font-weight="normal" fill="#1c1c1c" stroke="#1c1c1c" stroke-width="5.25" stroke-linejoin="miter">E</text>
<text transform="translate(157.19 697.57) scale(0.5800 0.5646)" font-family="Liberation Sans, sans-serif" font-size="100" font-weight="normal" fill="#8a8a8a" stroke="#8a8a8a" stroke-width="2.93" stroke-linejoin="miter">H</text>
<text transform="translate(199.73 697.59) scale(0.5927 0.5651)" font-family="Liberation Sans, sans-serif" font-size="100" font-weight="normal" fill="#8a8a8a" stroke="#8a8a8a" stroke-width="2.87" stroke-linejoin="miter">A</text>
<text transform="translate(240.21 697.52) scale(0.5424 0.5630)" font-family="Liberation Sans, sans-serif" font-size="100" font-weight="normal" fill="#8a8a8a" stroke="#8a8a8a" stroke-width="3.13" stroke-linejoin="miter">V</text>
<text transform="translate(278.40 697.49) scale(0.5254 0.5622)" font-family="Liberation Sans, sans-serif" font-size="100" font-weight="normal" fill="#8a8a8a" stroke="#8a8a8a" stroke-width="3.24" stroke-linejoin="miter">I</text>
<text transform="translate(293.92 697.62) scale(0.6197 0.5661)" font-family="Liberation Sans, sans-serif" font-size="100" font-weight="normal" fill="#8a8a8a" stroke="#8a8a8a" stroke-width="2.74" stroke-linejoin="miter">O</text>
<text transform="translate(344.94 697.40) scale(0.4766 0.5597)" font-family="Liberation Sans, sans-serif" font-size="100" font-weight="normal" fill="#8a8a8a" stroke="#8a8a8a" stroke-width="3.57" stroke-linejoin="miter">R</text>
<text transform="translate(678.10 658.56) scale(0.5576 0.5513)" font-family="Liberation Sans, sans-serif" font-size="100" font-weight="normal" fill="#1c1c1c" stroke="#1c1c1c" stroke-width="4.48" stroke-linejoin="miter">I</text>
<text transform="translate(695.17 658.99) scale(0.5943 0.5638)" font-family="Liberation Sans, sans-serif" font-size="100" font-weight="normal" fill="#8a8a8a" stroke="#8a8a8a" stroke-width="2.86" stroke-linejoin="miter">N</text>
<text transform="translate(740.17 659.01) scale(0.6069 0.5642)" font-family="Liberation Sans, sans-serif" font-size="100" font-weight="normal" fill="#8a8a8a" stroke="#8a8a8a" stroke-width="2.80" stroke-linejoin="miter">N</text>
<text transform="translate(787.10 658.81) scale(0.4816 0.5586)" font-family="Liberation Sans, sans-serif" font-size="100" font-weight="normal" fill="#8a8a8a" stroke="#8a8a8a" stroke-width="3.53" stroke-linejoin="miter">E</text>
<text transform="translate(821.88 658.82) scale(0.4834 0.5587)" font-family="Liberation Sans, sans-serif" font-size="100" font-weight="normal" fill="#8a8a8a" stroke="#8a8a8a" stroke-width="3.52" stroke-linejoin="miter">R</text>
<text transform="translate(684.52 723.48) scale(0.4464 0.5417)" font-family="Liberation Sans, sans-serif" font-size="100" font-weight="normal" fill="#1c1c1c" stroke="#1c1c1c" stroke-width="5.60" stroke-linejoin="miter">S</text>
<text transform="translate(716.48 724.09) scale(0.5217 0.5593)" font-family="Liberation Sans, sans-serif" font-size="100" font-weight="normal" fill="#8a8a8a" stroke="#8a8a8a" stroke-width="3.26" stroke-linejoin="miter">T</text>
<text transform="translate(746.54 724.19) scale(0.5882 0.5621)" font-family="Liberation Sans, sans-serif" font-size="100" font-weight="normal" fill="#8a8a8a" stroke="#8a8a8a" stroke-width="2.89" stroke-linejoin="miter">A</text>
<text transform="translate(783.24 724.12) scale(0.5394 0.5601)" font-family="Liberation Sans, sans-serif" font-size="100" font-weight="normal" fill="#8a8a8a" stroke="#8a8a8a" stroke-width="3.15" stroke-linejoin="miter">T</text>
<text transform="translate(818.71 723.99) scale(0.4686 0.5564)" font-family="Liberation Sans, sans-serif" font-size="100" font-weight="normal" fill="#8a8a8a" stroke="#8a8a8a" stroke-width="3.63" stroke-linejoin="miter">E</text>
</svg>
</body></html>
